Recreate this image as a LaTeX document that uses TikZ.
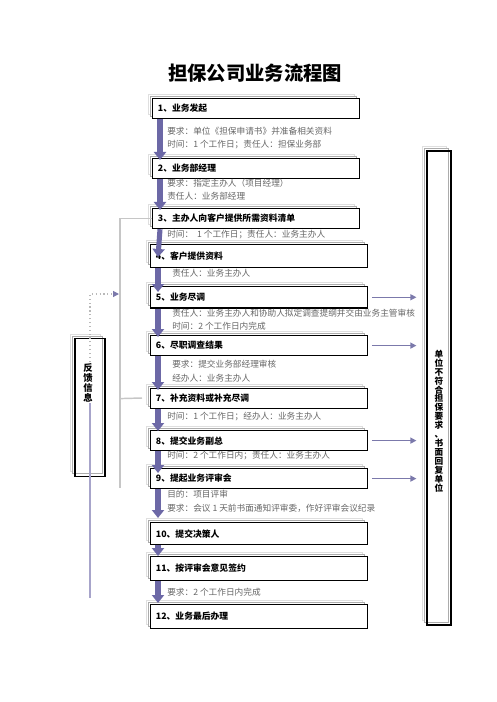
\documentclass[tikz,border=0pt]{standalone}
\usepackage{fontspec}
\setmainfont{Noto Sans CJK SC}
\usetikzlibrary{arrows.meta, positioning, calc, shadows}

\definecolor{flowpurple}{HTML}{6C68A6}
\definecolor{sidepurple}{HTML}{7B79AB}
\definecolor{notegray}{HTML}{666666}

\begin{document}
\begin{tikzpicture}[
  x=0.75pt, y=-0.75pt, font=\fontsize{6.6}{8}\selectfont,
  > = {Triangle[width=4.5pt,length=4.5pt]},
  boxshadow/.style = {copy shadow={shadow xshift=-3.4pt, shadow yshift=3.4pt, draw=gray!25, fill=white, line width=0.6pt},
                      copy shadow={shadow xshift=-1.8pt, shadow yshift=1.8pt, draw=gray!65, fill=white, line width=0.6pt}},
  stage/.style = {rectangle, draw=black, line width=0.9pt, fill=white, boxshadow, anchor=north west,
                  minimum height=15pt, inner xsep=4pt, inner ysep=1pt, text width=154.5pt, align=left,
                  font=\fontsize{6.6}{8}\selectfont\bfseries},
  tallbox/.style = {rectangle, draw=black, line width=0.9pt, boxshadow, minimum width=#1},
  note/.style = {anchor=west, inner sep=0pt, text=notegray, font=\fontsize{6.5}{8}\selectfont},
  flow/.style = {draw=flowpurple, line width=3.8pt, -{Triangle[width=9pt,length=6pt]}},
  reject/.style = {draw=sidepurple, line width=0.9pt, ->, shorten <=3pt, shorten >=7.5pt},
  feedline/.style = {draw=gray!45, line width=1.1pt},
  ]
  \useasboundingbox (0,0) rectangle (496,702);
  \node[font=\fontsize{14.5}{16}\selectfont\bfseries] (title) at (255,73) {担保公司业务流程图};

  % process boxes
  \node[stage, text width=147pt] (st1) at (152,98) {1、业务发起};
  \node[stage, text width=147pt] (st2) at (152,158) {2、业务部经理};
  \node[stage, text width=147pt] (st3) at (152,208) {3、主办人向客户提供所需资料清单};
  \node[stage, minimum height=17pt] (st4) at (150,244) {4、客户提供资料};
  \node[stage, minimum height=16pt] (st5) at (150,286) {5、业务尽调};
  \node[stage] (st6) at (150,335) {6、尽职调查结果};
  \node[stage] (st7) at (150,388) {7、补充资料或补充尽调};
  \node[stage] (st8) at (150,430) {8、提交业务副总};
  \node[stage] (st9) at (150,468) {9、提起业务评审会};
  \node[stage, minimum height=16.5pt] (st10) at (150,522) {10、提交决策人};
  \node[stage, minimum height=18pt] (st11) at (150,556) {11、按评审会意见签约};
  \node[stage, minimum height=18pt] (st12) at (150,604) {12、业务最后办理};

  % notes under the boxes
  \node[note] (n1a) at (167,131) {要求：单位《担保申请书》并准备相关资料};
  \node[note] (n1b) at (167,145) {时间：1 个工作日；责任人：担保业务部};
  \node[note] (n2a) at (167,183) {要求：指定主办人（项目经理）};
  \node[note] (n2b) at (167,196) {责任人：业务部经理};
  \node[note] (n3) at (167,235) {时间：\ \ 1 个工作日；责任人：业务主办人};
  \node[note] (n4) at (172,273) {责任人：业务主办人};
  \node[note] (n5a) at (172,313) {责任人：业务主办人和协助人拟定调查提纲并交由业务主管审核};
  \node[note] (n5b) at (172,326) {时间：2 个工作日内完成};
  \node[note] (n6a) at (172,364) {要求：提交业务部经理审核};
  \node[note] (n6b) at (172,378) {经办人：业务主办人};
  \node[note] (n7) at (167,417) {时间：1 个工作日；经办人：业务主办人};
  \node[note] (n8) at (167,456) {时间：2 个工作日内；责任人：业务主办人};
  \node[note] (n9a) at (167,494) {目的：项目评审};
  \node[note] (n9b) at (167,508) {要求：会议 1 天前书面通知评审委，作好评审会议纪录};
  \node[note] (n11) at (167,592) {要求：2 个工作日内完成};

  % main flow
  \foreach \a/\b/\d in {1/2/2, 2/3/2, 3/4/13, 4/5/6, 5/6/2, 6/7/2, 7/8/1, 8/9/5, 9/10/-4, 10/11/0, 11/12/-1}
    \draw[flow] ($(st\a.south west)+(8,0)$) -- ($(st\b.north west)+(8,\d)$);

  % rejection column
  \node[tallbox=18pt, minimum height=355.5pt] (rb) at (439,388) {};
  \node[align=center, inner sep=0pt, font=\fontsize{6.5}{6.7}\selectfont\bfseries] (rbtext) at (439,421)
    {单\\位\\不\\符\\合\\担\\保\\要\\求\\、\\书\\面\\回\\复\\单\\位};
  \foreach \s in {5,6,8,9}
    \draw[reject] (st\s.east) -- (st\s.east -| rb.west);

  % feedback
  \coordinate (fbend) at (120,488);
  \coordinate (fbstub) at (142,398);
  \draw[feedline] (st3.west) -| (fbend);
  \draw[feedline] (st7.west -| fbend) -- (fbstub);
  \node[tallbox=22.5pt, minimum height=103pt] (fb) at (90,407.5) {};
  \coordinate (fbbot) at (90,598);
  \coordinate (fbsplit) at (90,385);
  \coordinate (fbturn) at (90,294);
  \coordinate (fbhit) at (119,294);
  \draw[draw=flowpurple!60, line width=1pt] (fbbot) -- (fbsplit);
  \draw[draw=gray!55, line width=0.9pt, dotted, -{Triangle[width=4.5pt,length=4.5pt,color=sidepurple]}] (fbsplit) -- (fbturn) -- (fbhit);
  \node[fill=white, align=center, inner sep=0.6pt, font=\fontsize{7}{7.6}\selectfont\bfseries] (fbtext) at (88,383) {反\\馈\\信\\息};
\end{tikzpicture}
\end{document}
